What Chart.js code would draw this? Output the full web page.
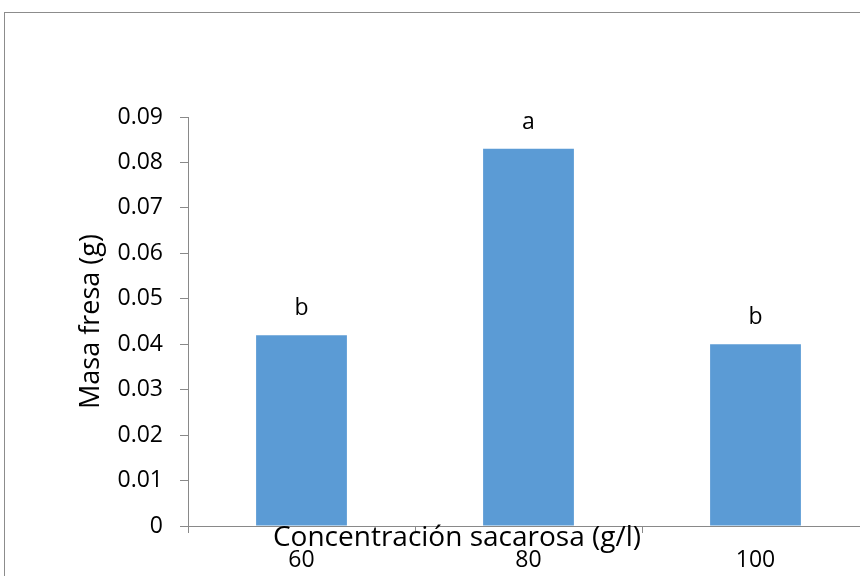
<!DOCTYPE html>
<html>
<head>
<meta charset="utf-8">
<script src="https://cdn.jsdelivr.net/npm/chart.js@4"></script>
<style>
  html, body { margin: 0; padding: 0; background: #fff; overflow: hidden; }
  #wrap { position: relative; width: 860px; height: 576px; overflow: hidden; }
  #frame { position: absolute; left: 4px; top: 12px; width: 900px; height: 600px; border: 1px solid #8c8c8c; box-sizing: border-box; }
  #holder { position: absolute; left: 0; top: 0; width: 900px; height: 576px; }
</style>
</head>
<body>
<div id="wrap">
  <div id="frame"></div>
  <div id="holder"><canvas id="myChart" width="900" height="576"></canvas></div>
</div>
<script>
// data
const categories = ['60', '80', '100'];
const masaFresa = [0.042, 0.083, 0.040];
const letters = ['b', 'a', 'b'];
const yTitle = 'Masa fresa (g)';
const xTitle = 'Concentración sacarosa (g/l)';

const fontFam = '"Open Sans", "DejaVu Sans", sans-serif';
const axisGray = '#898989';

// letters above bars + axis titles
const extras = {
    id: 'extras',
    afterDatasetsDraw(chart) {
        const ctx = chart.ctx;
        const meta = chart.getDatasetMeta(0);
        const area = chart.chartArea;
        ctx.save();
        ctx.fillStyle = '#000';
        ctx.font = '23px ' + fontFam;
        ctx.textAlign = 'center';
        ctx.textBaseline = 'alphabetic';
        meta.data.forEach(function (bar, i) {
            ctx.fillText(letters[i], bar.x, bar.y - 20);
        });
        // x title sits over the tick labels, like the original
        ctx.font = '28px ' + fontFam;
        ctx.textBaseline = 'middle';
        ctx.fillText(xTitle, area.left + 269, area.bottom + 12);
        // y title
        ctx.font = '27px ' + fontFam;
        ctx.translate(area.left - 97, (area.top + area.bottom) / 2);
        ctx.rotate(-Math.PI / 2);
        ctx.fillText(yTitle, 0, 0);
        ctx.restore();
    }
};

const ctx = document.getElementById('myChart');
new Chart(ctx, {
    type: 'bar',
    data: {
        labels: categories,
        datasets: [{
            data: masaFresa,
            backgroundColor: '#5b9bd5',
            borderWidth: 0,
            barPercentage: 0.4,
            categoryPercentage: 1
        }]
    },
    options: {
        responsive: false,
        animation: false,
        events: [],
        layout: { padding: { top: 117, right: 31, left: 0, bottom: 0 } },
        plugins: { legend: { display: false }, tooltip: { enabled: false } },
        scales: {
            x: {
                grid: { display: true, drawOnChartArea: false, drawTicks: true, tickLength: 7, color: axisGray, offset: true },
                border: { color: axisGray, width: 1 },
                ticks: { color: '#000', font: { family: fontFam, size: 23 }, padding: 14, maxRotation: 0 },
                afterFit(scale) { scale.height = 50; }
            },
            y: {
                min: 0,
                max: 0.09,
                grid: { display: true, drawOnChartArea: false, drawTicks: true, tickLength: 8, color: axisGray },
                border: { color: axisGray, width: 1 },
                ticks: {
                    stepSize: 0.01,
                    color: '#000',
                    font: { family: fontFam, size: 23 },
                    padding: 17,
                    callback: function (v) { return v === 0 ? '0' : v.toFixed(2); }
                },
                afterFit(scale) { scale.width = 188; }
            }
        }
    },
    plugins: [extras]
});
</script>
</body>
</html>
